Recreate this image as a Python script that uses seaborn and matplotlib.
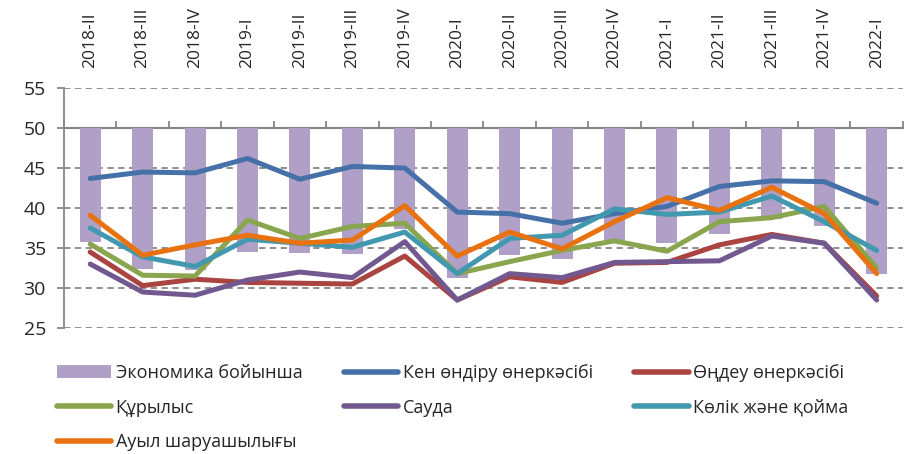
import numpy as np
import pandas as pd
import matplotlib
matplotlib.use("Agg")
import matplotlib.pyplot as plt
import seaborn as sns
from matplotlib.patches import Patch
from matplotlib.lines import Line2D

# quarters (top axis labels)
quarters = ["2018-II", "2018-III", "2018-IV", "2019-I", "2019-II", "2019-III", "2019-IV",
            "2020-I", "2020-II", "2020-III", "2020-IV", "2021-I", "2021-II", "2021-III",
            "2021-IV", "2022-I"]

# bars: whole economy (bars hang from the 50 line)
economy = [35.8, 32.4, 32.3, 34.5, 34.4, 34.2, 37.4, 31.2, 34.1, 33.6, 36.0, 35.6, 36.8, 38.6, 37.7, 31.8]

# lines
mining = [43.7, 44.5, 44.4, 46.2, 43.6, 45.2, 45.0, 39.5, 39.3, 38.1, 39.3, 40.2, 42.7, 43.4, 43.3, 40.6]
manufacturing = [34.5, 30.3, 31.1, 30.7, 30.6, 30.5, 34.0, 28.5, 31.4, 30.7, 33.1, 33.2, 35.4, 36.7, 35.6, 29.0]
construction = [35.5, 31.6, 31.5, 38.5, 36.2, 37.7, 38.1, 31.8, 33.3, 34.7, 35.9, 34.6, 38.3, 38.8, 40.2, 32.5]
trade = [33.0, 29.5, 29.1, 31.0, 32.0, 31.3, 35.8, 28.5, 31.8, 31.3, 33.2, 33.3, 33.4, 36.5, 35.6, 28.5]
transport = [37.5, 33.9, 32.7, 36.1, 35.6, 35.1, 37.0, 31.8, 36.2, 36.6, 39.9, 39.2, 39.5, 41.5, 38.3, 34.7]
agriculture = [39.1, 34.1, 35.4, 36.6, 35.6, 36.0, 40.3, 34.0, 37.0, 34.9, 38.3, 41.3, 39.7, 42.6, 39.3, 31.8]

bar_name = "Экономика бойынша"
line_names = ["Кен өндіру өнеркәсібі", "Өңдеу өнеркәсібі", "Құрылыс", "Сауда",
              "Көлік және қойма", "Ауыл шаруашылығы"]
line_values = [mining, manufacturing, construction, trade, transport, agriculture]
line_colors = ["#4671A8", "#AA4441", "#89A54E", "#71588F", "#4198AF", "#E8720F"]
bar_color = "#B0A0C8"
grey = "#868686"
base = 50

sns.set_style("white")
plt.rcParams["font.family"] = ["Open Sans", "Noto Sans", "DejaVu Sans"]

lines_df = pd.DataFrame({
    "quarter": np.tile(quarters, len(line_names)),
    "series": np.repeat(line_names, len(quarters)),
    "value": np.concatenate(line_values),
})
lines_df["pos"] = lines_df["quarter"].map({q: i for i, q in enumerate(quarters)})

fig = plt.figure(figsize=(9.06, 4.54), dpi=100)
ax = fig.add_axes([0.0706, 0.2775, 0.926, 0.5285])

# bars from the 50 line down to the value
sns.barplot(x=quarters, y=np.array(economy) - base, bottom=base, color=bar_color,
            width=0.4, saturation=1, linewidth=0, ax=ax, zorder=2)

sns.lineplot(data=lines_df, x="pos", y="value", hue="series", hue_order=line_names,
             palette=line_colors, linewidth=3.6, sort=False, legend=False, ax=ax, zorder=3)
for ln in ax.get_lines():
    ln.set_solid_capstyle("round")
    ln.set_solid_joinstyle("round")

ax.set_xlim(-0.5, len(quarters) - 0.5)
ax.set_ylim(25, 55)
ax.set_yticks(np.arange(25, 56, 5))
ax.yaxis.grid(True, color=grey, linestyle=(0, (3.5, 2.5)), linewidth=1.3, zorder=0)
ax.xaxis.grid(False)
ax.set_xlabel("")
ax.set_ylabel("")

# category axis crosses at 50, labels on top
ax.spines["top"].set_visible(False)
ax.spines["right"].set_visible(False)
ax.spines["left"].set_color(grey)
ax.spines["left"].set_linewidth(1.3)
ax.spines["bottom"].set_position(("data", base))
ax.spines["bottom"].set_color(grey)
ax.spines["bottom"].set_linewidth(1.5)
ax.spines["bottom"].set_zorder(1)

ax.set_xticks(range(len(quarters)))
ax.set_xticklabels(quarters, rotation=90, fontsize=12.5)
ax.set_xticks(np.arange(-0.5, len(quarters)), minor=True)
ax.tick_params(axis="x", which="major", bottom=False, top=False, labelbottom=False,
               labeltop=True, pad=11)
ax.tick_params(axis="x", which="minor", bottom=True, top=False, direction="in",
               length=5, width=1.3, color=grey)
ax.tick_params(axis="y", left=True, length=5, width=1.3, color=grey, pad=8, labelsize=14)

handles = [Patch(facecolor=bar_color, edgecolor="none")]
handles += [Line2D([0], [0], color=c, linewidth=4, solid_capstyle="round") for c in line_colors]
labels = [bar_name] + line_names
order = [0, 3, 6, 1, 4, 2, 5]
fig.legend([handles[i] for i in order], [labels[i] for i in order], ncol=3,
           loc="upper left", bbox_to_anchor=(0.055, 0.214), frameon=False,
           fontsize=13, handlelength=3.0, handleheight=0.75, handletextpad=0.25,
           columnspacing=2.3, labelspacing=0.92, borderaxespad=0)

fig.savefig("out.png", dpi=100)
